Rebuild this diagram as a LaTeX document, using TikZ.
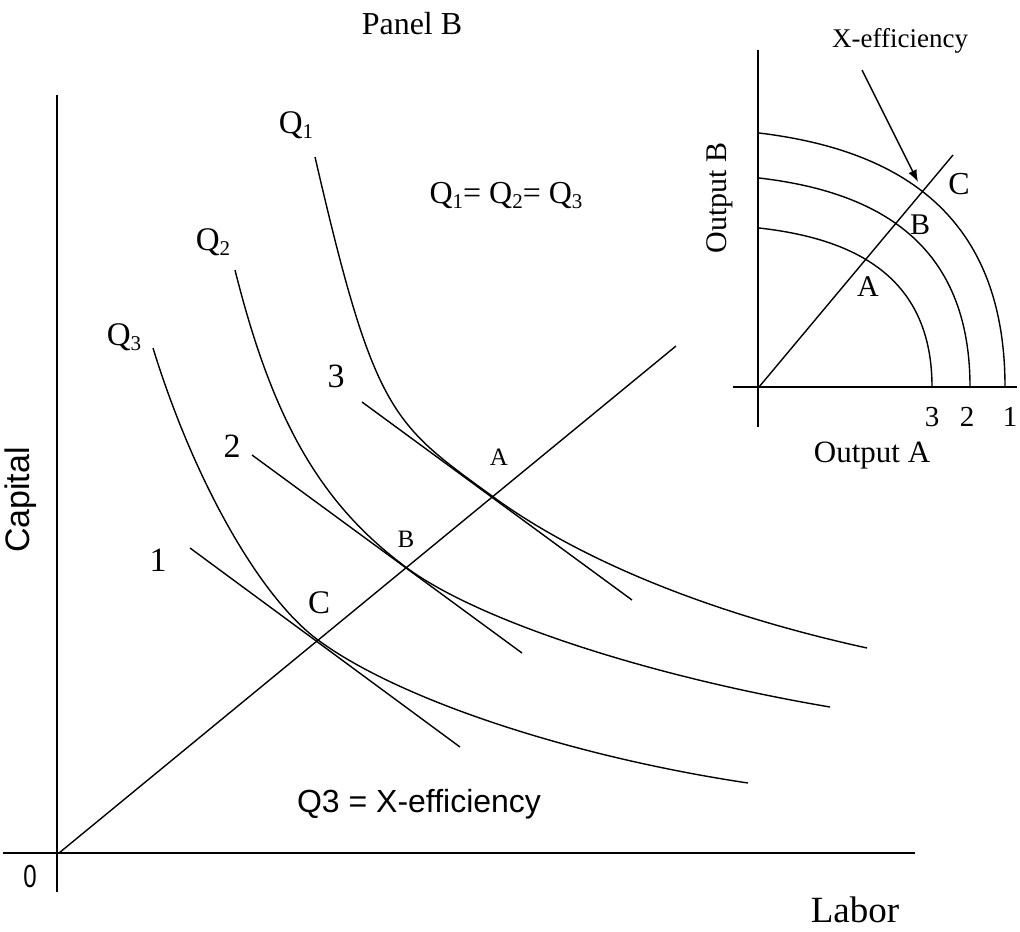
\documentclass[tikz,border=0pt]{standalone}
\usepackage{fontspec}
\setmainfont{Liberation Serif}
\setsansfont{Liberation Sans}
\usetikzlibrary{arrows.meta}
\newcommand\qsub[1]{\raisebox{-2.5pt}{\fontsize{10.5}{10.5}\selectfont #1}}

\begin{document}
\begin{tikzpicture}[x=0.5pt,y=-0.5pt,
  curve/.style={line width=0.7pt},
  axis/.style={line width=0.9pt},
  lbl/.style={inner sep=0pt,font=\fontsize{#1}{#1}\selectfont},
  slbl/.style={inner sep=0pt,font=\sffamily\fontsize{#1}{#1}\selectfont}]
\useasboundingbox (0,0) rectangle (1020,931);
\coordinate (O) at (59,853);
\coordinate (rayend) at (676,346);
\coordinate (A) at (492,496);
\coordinate (B) at (407,568);
\coordinate (C) at (318,640);
\draw[axis] (57,95) -- (57,892);
\draw[axis] (3,853) -- (915,853);
\draw[curve] (O) -- (rayend);
\draw[curve] (315,157) .. controls (374.5,414.8) and (392.1,423.2) .. (A)
  .. controls (579.9,560.5) and (711.4,613.8) .. (867,648);
\draw[curve] (235,270) .. controls (272.8,421.2) and (320.9,504.3) .. (B)
  .. controls (478.2,620.4) and (647.4,676) .. (830,707);
\draw[curve] (153,348) .. controls (193.7,480.2) and (259.7,597) .. (C)
  .. controls (398.4,699.3) and (570.4,756.4) .. (748,783);
\coordinate (l3s) at (362,402); \coordinate (l3e) at (632,600);
\coordinate (l2s) at (252,455); \coordinate (l2e) at (522,653);
\coordinate (l1s) at (190,548); \coordinate (l1e) at (460,747);
\draw[curve] (l3s) -- (l3e);
\draw[curve] (l2s) -- (l2e);
\draw[curve] (l1s) -- (l1e);
\node[lbl=16] (title) at (412,24) {Panel B};
\node[lbl=16.5] (q1) at (296,125) {Q\qsub{1}};
\node[lbl=16.5] (q2) at (213,242) {Q\qsub{2}};
\node[lbl=16.5] (q3) at (124,337) {Q\qsub{3}};
\node[lbl=16] (qeq) at (506,196) {Q\qsub{1}= Q\qsub{2}= Q\qsub{3}};
\node[lbl=17] (n3) at (336,376) {3};
\node[lbl=17] (n2) at (232,446) {2};
\node[lbl=17] (n1) at (158,560) {1};
\node[lbl=12.5] (la) at (499,457) {A};
\node[lbl=12.5] (lb) at (406,539) {B};
\node[lbl=16.5] (lc) at (319,603) {C};
\node[slbl=16] (xeff) at (419,804) {Q3 = X-efficiency};
\node[slbl=16,xscale=0.75] (zero) at (30,876) {0};
\node[lbl=18.5] (labor) at (855,910) {Labor};
\node[slbl=17,rotate=90] (capital) at (21,500) {Capital};
% inset
\coordinate (o2) at (759,387);
\coordinate (ray2) at (953,155);
\draw[curve] (758,50) -- (758,427);
\draw[curve] (733,387) -- (1017,387);
\draw[curve] (o2) -- (ray2);
\draw[curve] (759,133) .. controls (900,150) and (1005,215) .. (1005,387);
\draw[curve] (759,178) .. controls (880,192) and (970,245) .. (970,387);
\draw[curve] (759,228) .. controls (858,239) and (932,279) .. (932,387);
\node[lbl=13.5] (xlabel) at (900,41) {X-efficiency};
\coordinate (tip) at (918,182);
\draw[curve,-{Latex[length=6pt,width=4.5pt]}] (862,70) -- (tip);
\node[lbl=16] (ic) at (959,184) {C};
\node[lbl=15] (ib) at (920,225) {B};
\node[lbl=15] (ia) at (868,287) {A};
\node[lbl=14.5] (i3) at (932,417) {3};
\node[lbl=14.5] (i2) at (967,417) {2};
\node[lbl=14.5] (i1) at (1010,417) {1};
\node[lbl=15,rotate=90] (outb) at (720,198) {Output B};
\node[lbl=15.5] (outa) at (872,456) {Output A};
\end{tikzpicture}
\end{document}
